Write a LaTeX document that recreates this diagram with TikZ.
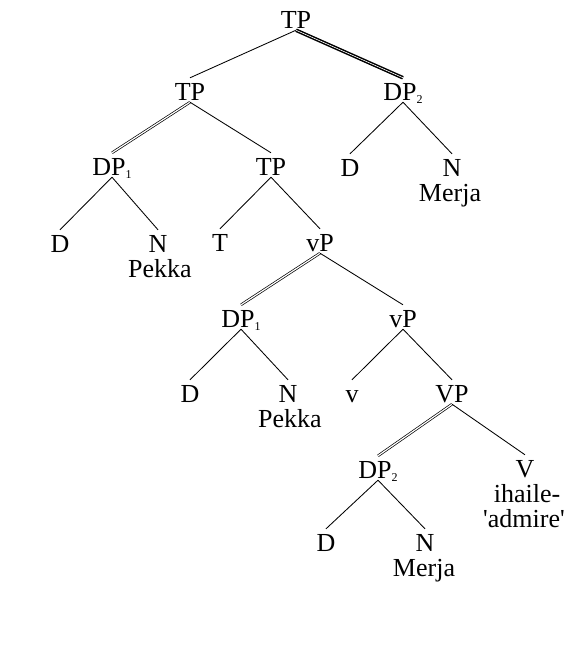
\documentclass[tikz,border=0pt]{standalone}
\usepackage{fontspec}
\setmainfont{Liberation Serif}
\usepackage{tikz}
\usetikzlibrary{positioning}

\newcommand{\idx}[1]{\raisebox{-3pt}{\fontsize{12}{12}\selectfont #1}}

\begin{document}
\begin{tikzpicture}[x=1pt, y=-1pt,
                    font=\fontsize{26}{28}\selectfont,
                    cat/.style={anchor=base, text height=20pt, text depth=0pt,
                                inner ysep=2pt, inner xsep=1pt},
                    word/.style={anchor=base, inner sep=0pt},
                    edge/.style={line width=0.85pt},
                    dbl/.style={double, line width=0.7pt, double distance=1.2pt},
                    heavy/.style={double, line width=1.5pt, double distance=0.6pt}]
        \useasboundingbox (0,0) rectangle (585,645);
        % categories
        \node[cat] (tp)   at (296,28)  {TP};
        \node[cat] (tpa)  at (190,100) {TP};
        \node[cat] (dpb)  at (403,100) {DP\idx{2}};
        \node[cat] (dpa)  at (112,175) {DP\idx{1}};
        \node[cat] (tpb)  at (271,175) {TP};
        \node[cat] (db)   at (350,176) {D};
        \node[cat] (nb)   at (452,176) {N};
        \node[cat] (da)   at (60,252)  {D};
        \node[cat] (na)   at (158,252) {N};
        \node[cat] (t)    at (220,251) {T};
        \node[cat] (vpa)  at (320,251) {vP};
        \node[cat] (dpc)  at (241,327) {DP\idx{1}};
        \node[cat] (vpb)  at (403,327) {vP};
        \node[cat] (dc)   at (190,402) {D};
        \node[cat] (nc)   at (288,402) {N};
        \node[cat] (v)    at (352,402) {v};
        \node[cat] (bvp)  at (452,402) {VP};
        \node[cat] (dpd)  at (378,478) {DP\idx{2}};
        \node[cat] (bv)   at (525,477) {V};
        \node[cat] (dd)   at (326,551) {D};
        \node[cat] (nd)   at (425,551) {N};
        % words
        \node[word] (merjaa) at (450,201) {Merja};
        \node[word] (pekkaa) at (160,277) {Pekka};
        \node[word] (pekkab) at (290,427) {Pekka};
        \node[word] (ihaile) at (527,502) {ihaile-};
        \node[word] (admire) at (524,527) {\textquotesingle admire\textquotesingle};
        \node[word] (merjab) at (424,576) {Merja};
        % branches
        \draw[edge]  (tp.south)  -- (tpa.north);
        \draw[heavy] (tp.south)  -- (dpb.north);
        \draw[dbl]   (tpa.south) -- (dpa.north);
        \draw[edge]  (tpa.south) -- (tpb.north);
        \draw[edge]  (dpb.south) -- (db.north);
        \draw[edge]  (dpb.south) -- (nb.north);
        \draw[edge]  (dpa.south) -- (da.north);
        \draw[edge]  (dpa.south) -- (na.north);
        \draw[edge]  (tpb.south) -- (t.north);
        \draw[edge]  (tpb.south) -- (vpa.north);
        \draw[dbl]   (vpa.south) -- (dpc.north);
        \draw[edge]  (vpa.south) -- (vpb.north);
        \draw[edge]  (dpc.south) -- (dc.north);
        \draw[edge]  (dpc.south) -- (nc.north);
        \draw[edge]  (vpb.south) -- (v.north);
        \draw[edge]  (vpb.south) -- (bvp.north);
        \draw[dbl]   (bvp.south) -- (dpd.north);
        \draw[edge]  (bvp.south) -- (bv.north);
        \draw[edge]  (dpd.south) -- (dd.north);
        \draw[edge]  (dpd.south) -- (nd.north);
\end{tikzpicture}
\end{document}
